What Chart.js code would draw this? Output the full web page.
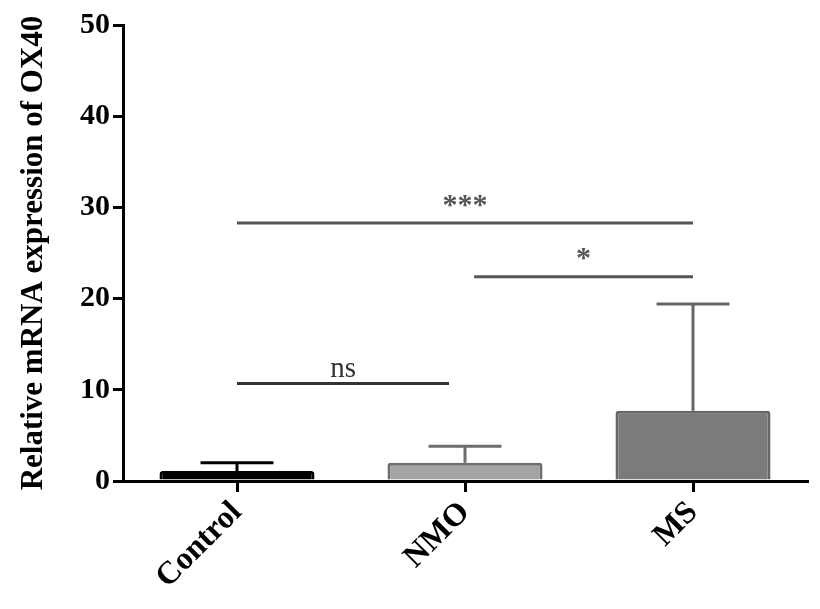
<!DOCTYPE html>
<html>
<head>
<meta charset="utf-8">
<script src="https://cdn.jsdelivr.net/npm/chart.js@4"></script>
<style>
  html, body { margin: 0; padding: 0; background: #fff; }
  #wrap { width: 820px; height: 609px; }
</style>
</head>
<body>
<div id="wrap"><canvas id="chart" width="820" height="609"></canvas></div>
<script>
// data
const categories = ['Control', 'NMO', 'MS'];
const meanValues = [1.1, 2.0, 7.7];
const sdValues = [0.9, 1.8, 11.7];
const yTicks = [0, 10, 20, 30, 40, 50];

// significance brackets (x in category index units, y in data units)
const sigFrom = [0, 1.04, 0];
const sigTo = [0.93, 2, 2];
const sigHeight = [10.7, 22.4, 28.3];
const sigLabels = ['ns', '*', '***'];

const barColors = ['#000000', '#a3a3a3', '#7b7b7b'];
const barBorders = ['#000000', '#6e6e6e', '#666666'];
const errColors = ['#000000', '#6e6e6e', '#666666'];
const sigColors = ['#333333', '#555555', '#555555'];

const serif = '"Liberation Serif", "DejaVu Serif", serif';

// error bars + significance lines
const overlay = {
    id: 'overlay',
    afterDatasetsDraw(chart) {
        const ctx = chart.ctx;
        const x = chart.scales.x;
        const y = chart.scales.y;
        const step = x.getPixelForValue(1) - x.getPixelForValue(0);
        ctx.save();
        ctx.lineCap = 'butt';
        meanValues.forEach(function(v, i) {
            const cx = x.getPixelForValue(i);
            const y0 = y.getPixelForValue(v);
            const y1 = y.getPixelForValue(v + sdValues[i]);
            const half = step * 0.16;
            ctx.strokeStyle = errColors[i];
            ctx.lineWidth = 3;
            ctx.beginPath();
            ctx.moveTo(cx, y0);
            ctx.lineTo(cx, y1);
            ctx.moveTo(cx - half, y1);
            ctx.lineTo(cx + half, y1);
            ctx.stroke();
        });
        sigLabels.forEach(function(lbl, i) {
            const xa = x.getPixelForValue(sigFrom[i]);
            const xb = x.getPixelForValue(sigTo[i]);
            const yy = y.getPixelForValue(sigHeight[i]);
            ctx.strokeStyle = sigColors[i];
            ctx.lineWidth = 3;
            ctx.beginPath();
            ctx.moveTo(xa, yy);
            ctx.lineTo(xb, yy);
            ctx.stroke();
            ctx.fillStyle = sigColors[i];
            ctx.textAlign = 'center';
            ctx.textBaseline = 'bottom';
            ctx.font = (lbl === 'ns' ? '29px ' : 'bold 30px ') + serif;
            ctx.fillText(lbl, (xa + xb) / 2, yy - (lbl === 'ns' ? 0 : 2));
        });
        ctx.restore();
    }
};

new Chart(document.getElementById('chart'), {
    type: 'bar',
    data: {
        labels: categories,
        datasets: [{
            data: meanValues,
            backgroundColor: barColors,
            borderColor: barBorders,
            borderWidth: 3,
            borderRadius: 3,
            borderSkipped: 'bottom',
            barPercentage: 0.85,
            categoryPercentage: 0.8
        }]
    },
    options: {
        responsive: false,
        animation: false,
        layout: { padding: { top: 25, right: 13, left: 15, bottom: 0 } },
        plugins: {
            legend: { display: false },
            tooltip: { enabled: false }
        },
        scales: {
            x: {
                offset: true,
                afterFit: function(scale) { scale.height = 128; },
                border: { display: true, color: '#000', width: 3 },
                grid: {
                    offset: false,
                    drawOnChartArea: false,
                    drawTicks: true,
                    tickLength: 11,
                    color: '#000',
                    lineWidth: 3
                },
                ticks: {
                    minRotation: 45,
                    maxRotation: 45,
                    padding: 2,
                    color: '#000',
                    font: { family: serif, size: 32, weight: 'bold' }
                }
            },
            y: {
                min: 0,
                max: 50,
                afterFit: function(scale) { scale.width = 108; },
                afterBuildTicks: function(scale) {
                    scale.ticks = yTicks.map(function(v) { return { value: v }; });
                },
                border: { display: true, color: '#000', width: 3 },
                grid: {
                    drawOnChartArea: false,
                    drawTicks: true,
                    tickLength: 10,
                    color: '#000',
                    lineWidth: 3
                },
                ticks: {
                    padding: 3,
                    color: '#000',
                    font: { family: serif, size: 30, weight: 'bold' }
                },
                title: {
                    display: true,
                    text: 'Relative mRNA expression of OX40',
                    color: '#000',
                    padding: { top: 0, bottom: 0 },
                    font: { family: serif, size: 31, weight: 'bold' }
                }
            }
        }
    },
    plugins: [overlay]
});
</script>
</body>
</html>
